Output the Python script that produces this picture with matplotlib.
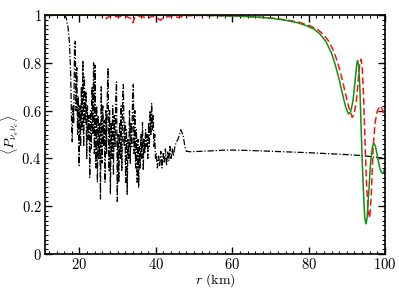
import numpy as np
import matplotlib.pyplot as plt
from matplotlib.ticker import MultipleLocator, FuncFormatter

plt.rcParams['mathtext.fontset'] = 'cm'
plt.rcParams['font.family'] = 'serif'
plt.rcParams['font.serif'] = ['DejaVu Serif']

# green solid
r_g = [11, 50, 55, 60, 65, 70, 74, 77, 79.5, 81.5, 83, 84.5, 86, 87, 88, 89, 89.7,
       90.4, 91.0, 91.6, 92.2, 92.6, 92.8, 93.1, 93.4, 93.7, 94.0, 94.4, 94.7, 95.0,
       95.3, 95.7, 96.2, 96.7, 97.1, 97.5, 98.0, 98.6, 99.1, 99.4, 99.7, 100]
p_g = [1.0, 1.0, 0.998, 0.996, 0.993, 0.987, 0.978, 0.968, 0.955, 0.94, 0.92, 0.89,
       0.84, 0.79, 0.73, 0.66, 0.615, 0.586, 0.595, 0.64, 0.73, 0.795, 0.81, 0.79,
       0.7, 0.55, 0.4, 0.24, 0.15, 0.126, 0.15, 0.25, 0.38, 0.45, 0.463, 0.45, 0.41,
       0.36, 0.34, 0.337, 0.345, 0.36]

# red dashed
r_r = [11, 20, 26, 27, 28, 30, 32, 33.5, 34, 34.5, 36, 38, 39, 40.5, 41.2, 42, 44,
       46, 48, 52, 56, 60, 65, 70, 74, 77.5, 80.3, 82.3, 83.8, 85.3, 86.8, 87.8,
       88.8, 89.8, 90.5, 91.4, 91.9, 92.5, 93.0, 93.4, 93.7, 94.0, 94.4, 94.8,
       95.2, 95.6, 96.0, 96.4, 96.9, 97.4, 98.0, 98.7, 99.2, 99.6, 100]
p_r = [1.0, 1.0, 0.998, 0.985, 0.997, 0.993, 0.996, 0.985, 0.968, 0.99, 0.995,
       0.986, 0.996, 0.985, 0.978, 0.99, 0.995, 0.99, 0.997, 0.998, 0.997, 0.996,
       0.993, 0.988, 0.98, 0.97, 0.955, 0.94, 0.92, 0.89, 0.84, 0.79, 0.73, 0.66,
       0.615, 0.572, 0.585, 0.64, 0.73, 0.8, 0.815, 0.79, 0.65, 0.45, 0.28, 0.18,
       0.15, 0.25, 0.45, 0.55, 0.6, 0.62, 0.61, 0.59, 0.57]

# black dash-dot
r_k = [16.0, 16.5, 17.0, 17.4, 17.7, 17.9, 18.1, 18.3, 18.5, 18.7, 18.9, 19.1, 19.3,
       19.5, 19.7, 19.9, 20.1, 20.3, 20.5, 20.7, 20.9, 21.1, 21.3, 21.5, 21.7, 21.9,
       22.1, 22.3, 22.5, 22.7, 22.9, 23.1, 23.3, 23.5, 23.7, 23.9, 24.1, 24.3, 24.5,
       24.7, 24.9, 25.1, 25.3, 25.5, 25.7, 25.9, 26.1, 26.3, 26.5, 26.7, 26.9, 27.1,
       27.3, 27.5, 27.7, 27.9, 28.1, 28.3, 28.5, 28.7, 28.9, 29.1, 29.3, 29.5, 29.7,
       29.9, 30.1, 30.3, 30.5, 30.7, 30.9, 31.1, 31.3, 31.5, 31.7, 31.9, 32.1, 32.3,
       32.5, 32.7, 32.9, 33.1, 33.3, 33.5, 33.7, 33.9, 34.1, 34.3, 34.5, 34.7, 34.9,
       35.1, 35.3, 35.5, 35.7, 35.9, 36.1, 36.3, 36.5, 36.7, 36.9, 37.1, 37.3, 37.5,
       37.7, 37.9, 38.1, 38.3, 38.5, 38.7, 38.9, 39.1, 39.3, 39.5, 39.7, 39.9, 40.1,
       40.4, 40.7, 41.0, 41.3, 41.6, 41.9, 42.2, 42.5, 42.8, 43.1, 43.4, 43.7, 44.0,
       44.3, 44.6, 45.0, 45.4, 45.8, 46.2, 46.5, 46.8, 47.1, 47.4, 47.7, 48.0, 49,
       52, 55, 58, 60, 65, 70, 75, 80, 85, 90, 93, 95, 97, 100]
p_k = [1.0, 0.99, 0.95, 0.88, 0.75, 0.58, 0.47, 0.62, 0.55, 0.85, 0.89, 0.6, 0.78,
       0.5, 0.66, 0.37, 0.62, 0.45, 0.7, 0.52, 0.81, 0.45, 0.74, 0.55, 0.68, 0.4,
       0.62, 0.48, 0.58, 0.32, 0.6, 0.44, 0.7, 0.5, 0.8, 0.42, 0.79, 0.36, 0.62,
       0.3, 0.58, 0.4, 0.55, 0.23, 0.7, 0.38, 0.62, 0.45, 0.56, 0.3, 0.6, 0.42,
       0.68, 0.78, 0.35, 0.6, 0.25, 0.55, 0.4, 0.62, 0.33, 0.58, 0.45, 0.65, 0.72,
       0.22, 0.5, 0.3, 0.55, 0.4, 0.62, 0.35, 0.66, 0.71, 0.45, 0.55, 0.3, 0.52,
       0.25, 0.48, 0.4, 0.6, 0.38, 0.55, 0.45, 0.65, 0.71, 0.42, 0.6, 0.36, 0.52,
       0.3, 0.48, 0.28, 0.45, 0.36, 0.5, 0.4, 0.55, 0.35, 0.48, 0.42, 0.52, 0.45,
       0.5, 0.4, 0.55, 0.45, 0.6, 0.5, 0.63, 0.52, 0.58, 0.45, 0.5, 0.4, 0.42,
       0.36, 0.41, 0.37, 0.43, 0.36, 0.42, 0.38, 0.44, 0.37, 0.43, 0.39, 0.45, 0.4,
       0.44, 0.41, 0.45, 0.47, 0.48, 0.5, 0.52, 0.51, 0.5, 0.47, 0.44, 0.43, 0.428,
       0.43, 0.432, 0.435, 0.435, 0.433, 0.43, 0.427, 0.424, 0.42, 0.416, 0.413,
       0.41, 0.406, 0.4]

fig = plt.figure(figsize=(3.99, 2.89), dpi=100)
ax = fig.add_axes([0.113, 0.121, 0.852, 0.827])

ax.plot(r_k, p_k, color='black', lw=0.9, dashes=(5, 1.5, 1, 1.5))
ax.plot(r_r, p_r, color='#ff1010', lw=1.1, dashes=(4.5, 2.2))
ax.plot(r_g, p_g, color='#109010', lw=1.1)

ax.set_xlim(11, 100)
ax.set_ylim(0, 1)
ax.xaxis.set_major_locator(MultipleLocator(20))
ax.xaxis.set_minor_locator(MultipleLocator(2))
ax.yaxis.set_major_locator(MultipleLocator(0.2))
ax.yaxis.set_minor_locator(MultipleLocator(0.02))
fmt = FuncFormatter(lambda v, pos: '$%g$' % round(v, 2))
ax.xaxis.set_major_formatter(fmt)
ax.yaxis.set_major_formatter(fmt)
ax.tick_params(which='both', direction='in', top=True, right=True, labelsize=10.5)
ax.tick_params(which='major', length=5, width=1, pad=2.5)
ax.tick_params(axis='x', which='major', pad=2)
ax.tick_params(which='minor', length=2.5, width=0.8)
for s in ax.spines.values():
    s.set_linewidth(1.2)

ax.set_xlabel(r'$r\ (\mathrm{km})$', fontsize=10)
ax.xaxis.set_label_coords(0.5, -0.07)
ax.set_ylabel(r'$\langle P_{\nu_e\nu_e}\rangle$', fontsize=10)
ax.yaxis.set_label_coords(-0.07, 0.5)

plt.savefig('out.png', dpi=100)
